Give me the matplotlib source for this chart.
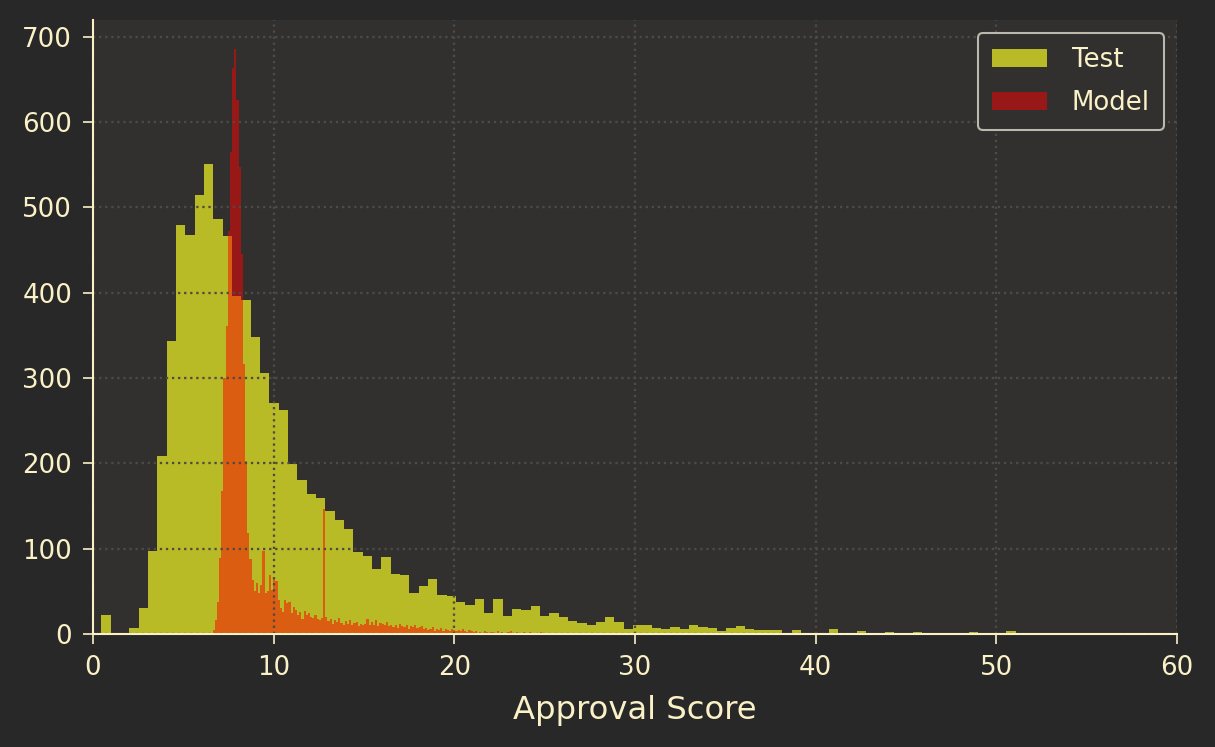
#!/usr/bin/env python3
"""
Approval score histogram: test set vs model output
"""

import numpy as np
import matplotlib
matplotlib.use('Agg')
import matplotlib.pyplot as plt

# Test histogram: bins of equal width starting at TEST_START
TEST_START = 0.46
TEST_WIDTH = 0.5165
test_counts = [
    22, 0, 0, 7, 30, 97, 209, 343, 479, 468,
    515, 551, 487, 467, 396, 391, 348, 306, 271, 263,
    199, 181, 164, 159, 144, 134, 123, 96, 91, 76,
    90, 70, 69, 48, 56, 65, 46, 44, 37, 34,
    41, 25, 41, 21, 29, 28, 33, 21, 25, 20,
    15, 13, 10, 14, 20, 14, 6, 10, 10, 7,
    6, 8, 6, 10, 8, 7, 3, 7, 9, 6,
    5, 5, 5, 0, 5, 0, 1, 0, 6, 0,
    1, 3, 0, 0, 2, 0, 0, 2, 1, 0,
    0, 0, 1, 2, 1, 0, 0, 3, 0, 0,
    1,
]

# Model histogram: much finer bins
MODEL_START = 6.62
MODEL_WIDTH = 0.12
model_counts = [
    5, 16, 38, 89, 168, 300, 361, 472, 565, 663,
    686, 626, 548, 446, 316, 203, 118, 88, 63, 50,
    60, 48, 58, 97, 48, 50, 69, 52, 65, 62,
    40, 30, 26, 40, 36, 38, 25, 32, 28, 22,
    26, 18, 27, 22, 25, 20, 19, 22, 18, 16,
    19, 146, 20, 15, 18, 12, 16, 14, 19, 13,
    11, 15, 12, 16, 10, 13, 14, 9, 12, 11,
    12, 18, 10, 14, 11, 16, 9, 13, 12, 10,
    14, 9, 11, 8, 10, 7, 12, 9, 8, 10,
    6, 9, 8, 11, 7, 8, 9, 6, 7, 5,
    6, 8, 4, 6, 5, 7, 4, 6, 5, 3,
    6, 5, 4, 5, 3, 6, 4, 2, 5, 3,
    2, 3, 1, 2, 0, 3, 2, 1, 2, 2,
    0, 3, 1, 2, 1, 0, 2, 3, 1, 1,
    2, 0, 1, 2, 1, 0, 2, 1, 1, 0,
    1, 2, 0, 1, 1, 0, 1, 0, 1, 1,
    0, 0, 1, 0, 1, 0, 0, 0, 1, 0,
    0, 1, 0, 0, 0, 0, 1, 0, 0, 0,
    0, 1, 0, 0, 0, 0, 0, 1, 0, 0,
    0, 0, 0, 0, 1,
]

BG = '#282828'
AX_BG = '#32302f'
FG = '#fbf1c7'
GRID = '#504945'


def main():
    fig = plt.figure(figsize=(8.1, 4.98), dpi=150, facecolor=BG)
    ax = fig.add_axes([0.0765, 0.1513, 0.8922, 0.8225])
    ax.set_facecolor(AX_BG)

    test_edges = TEST_START + TEST_WIDTH * np.arange(len(test_counts) + 1)
    model_edges = MODEL_START + MODEL_WIDTH * np.arange(len(model_counts) + 1)

    ax.hist(test_edges[:-1], bins=test_edges, weights=test_counts,
            color='#b8bb26', label='Test')
    ax.hist(model_edges[:-1], bins=model_edges, weights=model_counts,
            color='#ff0000', alpha=0.5, label='Model')

    ax.set_xlim(0, 60)
    ax.set_ylim(bottom=0)

    # grid sits on top of the bars, spines on top of the grid
    ax.set_axisbelow(False)
    ax.grid(True, linestyle=':', color=GRID, linewidth=1.1)

    for side in ('top', 'right'):
        ax.spines[side].set_visible(False)
    for side in ('left', 'bottom'):
        ax.spines[side].set_color(FG)
        ax.spines[side].set_linewidth(1.0)
        ax.spines[side].set_zorder(5)

    ax.tick_params(colors=FG, labelsize=12.5, length=5, pad=5)
    ax.set_xlabel('Approval Score', fontsize=15.5, color=FG, labelpad=7)

    leg = ax.legend(loc='upper right', fontsize=12.5, facecolor=AX_BG,
                    edgecolor='#bdb8ad', framealpha=1.0,
                    handlelength=2.1, handletextpad=0.95,
                    labelspacing=0.65, borderpad=0.55)
    leg.set_zorder(6)
    for t in leg.get_texts():
        t.set_color(FG)

    fig.savefig('out.png', dpi=150, facecolor=BG)


if __name__ == '__main__':
    main()
